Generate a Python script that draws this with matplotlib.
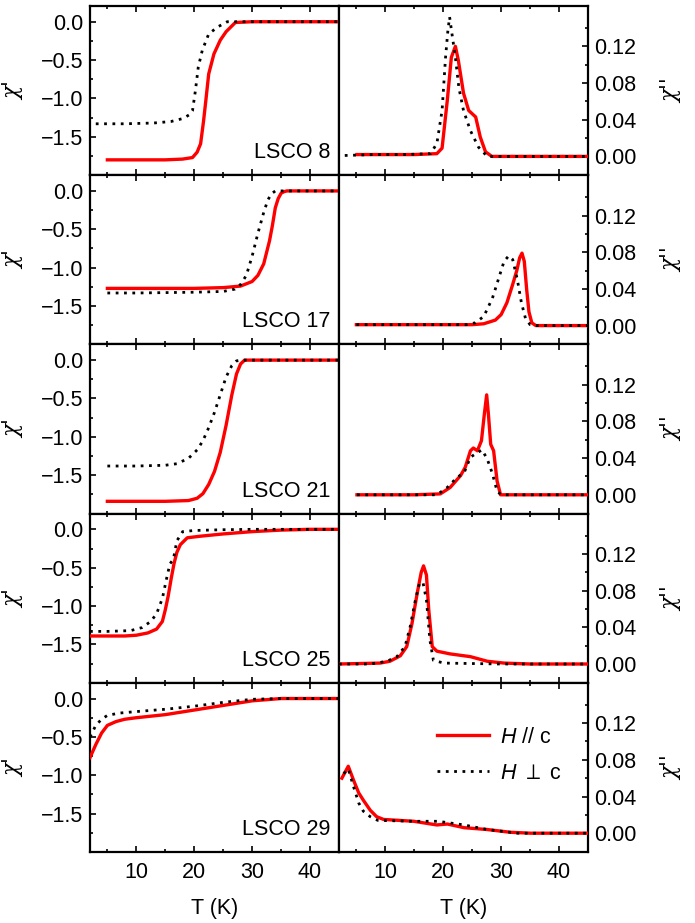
import numpy as np
import matplotlib
matplotlib.use("Agg")
import matplotlib.pyplot as plt
from matplotlib.ticker import MultipleLocator, FixedLocator, FuncFormatter

plt.rcParams['font.family'] = ['Liberation Sans', 'DejaVu Sans']
plt.rcParams['mathtext.fontset'] = 'custom'
plt.rcParams['mathtext.rm'] = 'Liberation Sans'
plt.rcParams['mathtext.it'] = 'Liberation Sans:italic'
plt.rcParams['mathtext.fallback'] = 'stixsans'

# ---------------- data ----------------
samples = ["LSCO 8", "LSCO 17", "LSCO 21", "LSCO 25", "LSCO 29"]
legend_labels = [r"$H$ // c", r"$H$ $\perp$ c"]

# chi' (real part), H // c (red)
re_par_T = [
    [5, 10, 15, 18, 19.7, 20.5, 21.1, 21.6, 22.0, 22.5, 23.4, 24.5, 25.5, 26.3, 27.1, 30, 35, 40, 45],
    [5, 10, 20, 25, 28, 30, 31, 32, 33, 33.5, 34, 34.5, 35, 35.5, 36, 40, 45],
    [5, 10, 15, 19, 20.5, 21.5, 22.5, 23.5, 24.5, 25.5, 26.5, 27.3, 28, 28.7, 30, 35, 45],
    [2, 5, 8, 10, 12, 13.5, 14.5, 15, 15.5, 16, 16.5, 17, 17.6, 18.8, 21, 25, 30, 35, 40, 45],
    [2, 3, 4, 5, 6.5, 8, 10, 15, 20, 25, 30, 35, 40, 45],
]
re_par_v = [
    [-1.80, -1.80, -1.80, -1.79, -1.77, -1.70, -1.59, -1.30, -1.03, -0.68, -0.42, -0.24, -0.13, -0.07, -0.01, 0, 0, 0, 0],
    [-1.27, -1.27, -1.27, -1.26, -1.24, -1.18, -1.10, -0.95, -0.65, -0.45, -0.22, -0.10, -0.03, -0.01, 0, 0, 0],
    [-1.84, -1.84, -1.84, -1.83, -1.80, -1.74, -1.62, -1.45, -1.20, -0.85, -0.45, -0.18, -0.05, 0, 0, 0, 0],
    [-1.39, -1.39, -1.39, -1.38, -1.35, -1.30, -1.20, -1.05, -0.87, -0.65, -0.45, -0.30, -0.20, -0.11, -0.09, -0.06, -0.03, -0.01, 0, 0],
    [-0.77, -0.60, -0.45, -0.35, -0.30, -0.27, -0.25, -0.21, -0.15, -0.09, -0.03, 0, 0, 0],
]
# chi' (real part), H perp c (black dotted)
re_perp_T = [
    [3, 8, 13, 16, 18.1, 19.2, 19.7, 20.2, 20.7, 21.4, 22.5, 24, 25.7, 30, 35, 40, 45],
    [5, 10, 20, 25, 27, 28, 29, 30, 31, 32, 32.7, 33.3, 34, 40, 45],
    [5, 10, 15, 17, 19, 20.5, 21.5, 22.5, 23.5, 24.5, 25.5, 26.5, 27.3, 28, 35, 45],
    [2, 5, 9, 11, 12.5, 13.5, 14.5, 15.2, 15.8, 16.4, 17, 18, 20, 25, 30, 45],
    [2, 3, 4, 5, 7, 10, 15, 20, 25, 30, 35, 45],
]
re_perp_v = [
    [-1.33, -1.33, -1.32, -1.30, -1.26, -1.21, -1.16, -0.90, -0.59, -0.37, -0.16, -0.07, 0, 0, 0, 0, 0],
    [-1.33, -1.33, -1.32, -1.31, -1.28, -1.22, -1.10, -0.85, -0.55, -0.28, -0.12, -0.04, 0, 0, 0],
    [-1.38, -1.38, -1.37, -1.35, -1.28, -1.17, -1.05, -0.88, -0.68, -0.45, -0.22, -0.07, -0.01, 0, 0, 0],
    [-1.33, -1.33, -1.32, -1.28, -1.20, -1.10, -0.90, -0.65, -0.45, -0.39, -0.15, -0.03, -0.015, -0.005, 0, 0],
    [-0.50, -0.35, -0.27, -0.22, -0.19, -0.17, -0.14, -0.10, -0.05, -0.01, 0, 0],
]
# chi'' (imaginary part), H // c (red)
im_par_T = [
    [5.1, 10, 15, 18.9, 19.8, 20.7, 21.4, 22.1, 22.6, 23.5, 24.4, 25.6, 26.4, 27.3, 28.4, 35, 45],
    [5, 10, 20, 25, 27, 29, 30, 31, 32, 32.7, 33.2, 33.6, 34.0, 34.4, 34.8, 35.3, 36, 40, 45],
    [5.1, 10, 15, 19.5, 21.2, 23.0, 23.8, 24.7, 25.2, 25.9, 26.6, 27.1, 27.5, 27.8, 28.2, 28.7, 29.3, 29.9, 35, 45],
    [2, 9.1, 10.8, 12.6, 13.7, 14.6, 15.5, 16.2, 16.6, 17.1, 17.5, 18.1, 18.9, 21.2, 24.7, 27.6, 30.5, 35, 45],
    [2.5, 3.6, 4.5, 5.4, 6.2, 7.4, 8.5, 9.7, 14.9, 18.9, 20.7, 23.6, 27.6, 31.6, 35.1, 45],
]
im_par_v = [
    [0.002, 0.002, 0.002, 0.003, 0.009, 0.061, 0.108, 0.120, 0.105, 0.069, 0.050, 0.043, 0.021, 0.005, 0.0, 0, 0],
    [0.001, 0.001, 0.001, 0.001, 0.002, 0.006, 0.012, 0.025, 0.045, 0.060, 0.074, 0.079, 0.070, 0.040, 0.015, 0.003, 0, 0, 0],
    [0, 0, 0, 0.001, 0.008, 0.021, 0.030, 0.048, 0.051, 0.048, 0.059, 0.088, 0.109, 0.088, 0.055, 0.048, 0.015, 0.0, 0, 0],
    [0, 0.001, 0.003, 0.009, 0.019, 0.044, 0.077, 0.100, 0.107, 0.097, 0.059, 0.019, 0.014, 0.011, 0.008, 0.003, 0.001, 0, 0],
    [0.060, 0.073, 0.058, 0.044, 0.036, 0.025, 0.018, 0.015, 0.013, 0.009, 0.010, 0.006, 0.004, 0.001, 0, 0],
]
# chi'' (imaginary part), H perp c (black dotted)
im_perp_T = [
    [3.0, 8, 13, 17.8, 18.9, 19.8, 20.4, 20.8, 21.1, 21.5, 22.1, 22.7, 23.5, 24.7, 26.1, 27.6, 35, 45],
    [5, 10, 20, 24, 25.5, 27, 28.5, 29.5, 30.5, 31.3, 32, 32.8, 33.5, 34.2, 35, 36, 45],
    [5.1, 10, 15, 18.9, 20.7, 22.4, 23.6, 24.7, 25.9, 26.7, 27.6, 28.5, 29.3, 30, 35, 45],
    [2, 7.4, 10.3, 12.0, 13.4, 14.3, 15.2, 15.9, 16.5, 17.1, 17.7, 18.3, 20.1, 30, 45],
    [2.8, 3.6, 4.5, 5.4, 6.2, 7.4, 8.7, 14.9, 19.1, 23.6, 27.6, 31.6, 32.8, 45],
]
im_perp_v = [
    [0.001, 0.002, 0.002, 0.003, 0.014, 0.050, 0.108, 0.137, 0.152, 0.134, 0.108, 0.075, 0.050, 0.028, 0.010, 0.0, 0, 0],
    [0.001, 0.001, 0.001, 0.001, 0.003, 0.010, 0.030, 0.050, 0.070, 0.076, 0.072, 0.050, 0.025, 0.008, 0.001, 0, 0],
    [0, 0, 0, 0.0, 0.008, 0.019, 0.024, 0.041, 0.046, 0.049, 0.039, 0.023, 0.004, 0, 0, 0],
    [0, 0, 0.003, 0.008, 0.019, 0.041, 0.070, 0.088, 0.089, 0.070, 0.026, 0.004, 0.001, 0, 0],
    [0.065, 0.070, 0.051, 0.033, 0.024, 0.018, 0.014, 0.013, 0.013, 0.009, 0.004, 0.001, 0, 0],
]

left_yticks = [-1.5, -1.0, -0.5, 0.0]
right_yticks = [0.00, 0.04, 0.08, 0.12]
x_ticks = [10, 20, 30, 40]

# ---------------- figure ----------------
W, H = 695, 923
fig = plt.figure(figsize=(W / 100, H / 100), dpi=100)

x_left0, x_mid, x_right1 = 90, 339, 588
y_top, y_bot = 6, 852
row_h = (y_bot - y_top) / 5

RED = '#FF0000'
FS = 15.5
lw_red = 2.4
lw_dot = 2.0
dot_style = (0, (1, 2.0))
spine_lw = 1.6
chi_font = dict(family=['DejaVu Serif', 'DejaVu Sans'], style='italic', size=FS)


def minus_fmt(fmt):
    return FuncFormatter(lambda v, p: (fmt % v).replace('-', '\u2212'))


for i in range(5):
    top = y_top + i * row_h
    bottom_fig = 1 - (top + row_h) / H
    axL = fig.add_axes([x_left0 / W, bottom_fig, (x_mid - x_left0) / W, row_h / H])
    axR = fig.add_axes([x_mid / W, bottom_fig, (x_right1 - x_mid) / W, row_h / H])

    axL.plot(re_par_T[i], re_par_v[i], color=RED, lw=lw_red, solid_joinstyle='round', zorder=3)
    axL.plot(re_perp_T[i], re_perp_v[i], color='black', lw=lw_dot, linestyle=dot_style, zorder=4)
    hr, = axR.plot(im_par_T[i], im_par_v[i], color=RED, lw=lw_red, solid_joinstyle='round', zorder=3)
    hb, = axR.plot(im_perp_T[i], im_perp_v[i], color='black', lw=lw_dot, linestyle=dot_style, zorder=4)

    for ax in (axL, axR):
        ax.set_xlim(2, 45)
        ax.xaxis.set_major_locator(FixedLocator(x_ticks))
        ax.xaxis.set_minor_locator(MultipleLocator(5))
        for s in ax.spines.values():
            s.set_linewidth(spine_lw)
        ax.tick_params(axis='both', which='both', direction='in', labelsize=FS)
        ax.tick_params(which='major', length=4.5, width=1.2)
        ax.tick_params(which='minor', length=2.5, width=1.2)
        ax.tick_params(axis='x', which='both', top=True, bottom=True, pad=7)
        if i < 4:
            ax.tick_params(axis='x', labelbottom=False)
        else:
            ax.set_xlabel('T (K)', fontsize=FS, labelpad=11)

    axL.set_ylim(-2.0, 0.205)
    axL.yaxis.set_major_locator(FixedLocator(left_yticks))
    axL.yaxis.set_minor_locator(FixedLocator([-1.75, -1.25, -0.75, -0.25]))
    axL.yaxis.set_major_formatter(minus_fmt('%.1f'))
    axL.tick_params(axis='y', which='both', left=True, right=False, pad=5)
    axL.set_ylabel("χ'", fontdict=chi_font)
    axL.yaxis.set_label_coords(-0.265, 0.5)

    axR.set_ylim(-0.0205, 0.164)
    axR.yaxis.set_major_locator(FixedLocator(right_yticks))
    axR.yaxis.set_minor_locator(FixedLocator([0.02, 0.06, 0.10, 0.14]))
    axR.yaxis.set_major_formatter(minus_fmt('%.2f'))
    axR.tick_params(axis='y', which='both', left=False, right=True, labelleft=False, labelright=True, pad=4.5)
    axR.yaxis.set_label_position('right')
    axR.set_ylabel("χ''", fontdict=chi_font, rotation=90)
    axR.yaxis.set_label_coords(1.29, 0.5)

    axL.text(0.964, 0.10, samples[i], transform=axL.transAxes, ha='right', va='baseline', fontsize=FS)

    if i == 4:
        axR.legend([hr, hb], legend_labels, loc='upper left', bbox_to_anchor=(0.394, 0.74),
                   frameon=False, fontsize=FS, handlelength=2.4, handletextpad=0.5,
                   labelspacing=0.7, borderpad=0, borderaxespad=0)

fig.savefig('out.png', dpi=100)
